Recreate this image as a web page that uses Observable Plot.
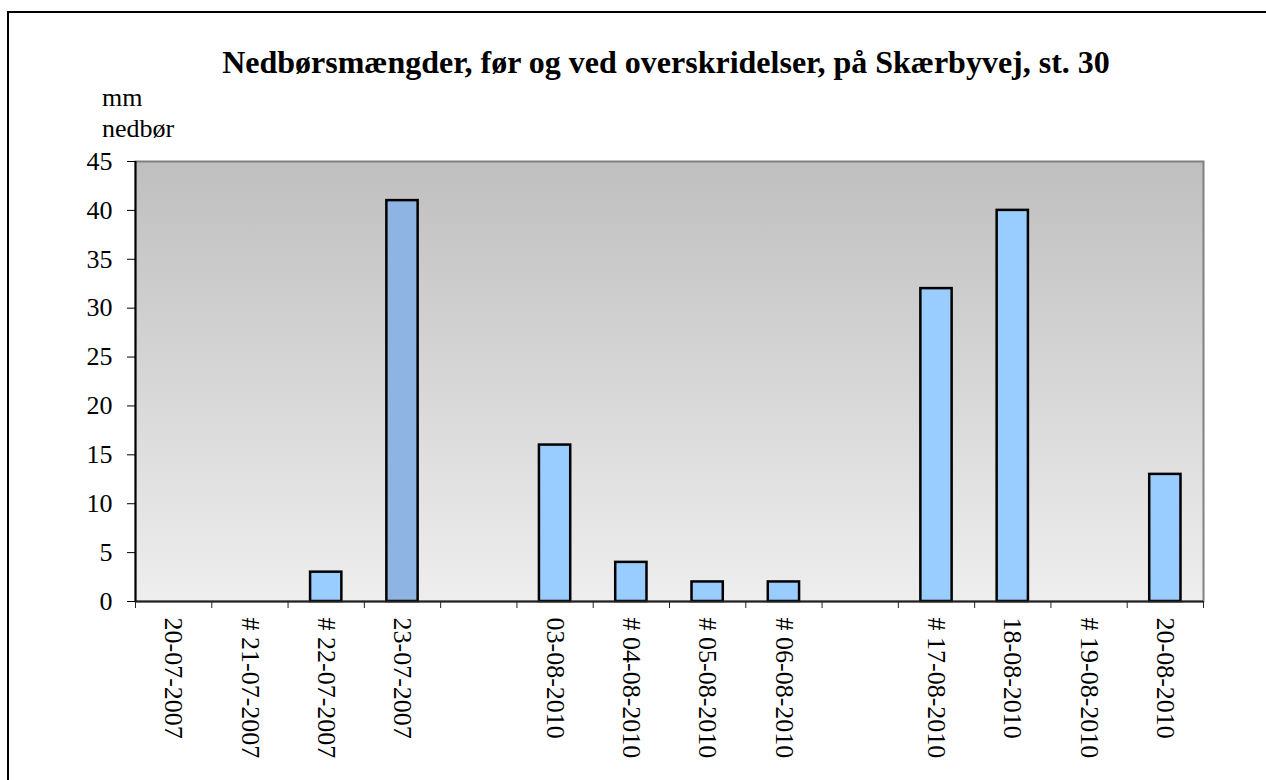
<!DOCTYPE html>
<html>
<head>
<meta charset="utf-8">
<script src="https://cdn.jsdelivr.net/npm/d3@7"></script>
<script src="https://cdn.jsdelivr.net/npm/@observablehq/plot@0.6"></script>
<style>
html, body { margin: 0; padding: 0; background: #fff; overflow: hidden; width: 1266px; height: 780px; }
#border { position: absolute; left: 7px; top: 11px; width: 1320px; height: 840px; border: 2px solid #000; box-sizing: border-box; }
#title { position: absolute; left: 0; width: 1332px; top: 46px; text-align: center; font: bold 32px "Liberation Serif", "Times New Roman", serif; line-height: 32px; white-space: nowrap; }
#ylabel { position: absolute; left: 102px; top: 82px; font: 26px "Liberation Serif", "Times New Roman", serif; line-height: 31px; }
#chart { position: absolute; left: 0; top: 0; }
</style>
</head>
<body>
<div id="border"></div>
<div id="title">Nedbørsmængder, før og ved overskridelser, på Skærbyvej, st. 30</div>
<div id="ylabel">mm<br>nedbør</div>
<div id="chart"></div>
<script>
const categories = ["20-07-2007", "# 21-07-2007", "# 22-07-2007", "23-07-2007", "", "03-08-2010", "# 04-08-2010", "# 05-08-2010", "# 06-08-2010", "", "# 17-08-2010", "18-08-2010", "# 19-08-2010", "20-08-2010"];
const values = [0, 0, 3, 41, null, 16, 4, 2, 2, null, 32, 40, 0, 13];
const yTicks = [0, 5, 10, 15, 20, 25, 30, 35, 40, 45];
const highlighted = "23-07-2007";

const W = 1266, H = 780;
const mL = 135, mR = 63, mT = 161, mB = 179;
const step = (W - mL - mR) / categories.length;
const idx = categories.map((_, i) => i);
const data = categories.map((label, i) => ({i, label, value: values[i]}));

const gradient = () => {
  const defs = d3.create("svg:defs");
  const g = defs.append("linearGradient").attr("id", "bgGrad")
    .attr("x1", 0).attr("y1", 0).attr("x2", 0).attr("y2", 1);
  g.append("stop").attr("offset", "0%").attr("stop-color", "#BFBFBF");
  g.append("stop").attr("offset", "100%").attr("stop-color", "#EEEEEE");
  return defs.node();
};

const chart = Plot.plot({
  width: W, height: H,
  marginLeft: mL, marginRight: mR, marginTop: mT, marginBottom: mB,
  style: {fontFamily: "'Liberation Serif', 'Times New Roman', serif", fontSize: "26px", background: "transparent", color: "#000"},
  x: {type: "band", domain: idx, paddingInner: 0.59, paddingOuter: 0.295, round: false, axis: null},
  y: {domain: [0, 45], axis: null},
  color: {type: "identity"},
  marks: [
    gradient,
    Plot.frame({fill: "url(#bgGrad)", stroke: "#808080", strokeWidth: 2}),
    Plot.barY(data.filter(d => d.value > 0), {
      x: "i", y: "value",
      fill: d => d.label === highlighted ? "#8DB4E2" : "#99CCFF",
      stroke: "#000", strokeWidth: 2.5
    }),
    Plot.ruleY([0], {stroke: "#222", strokeWidth: 2}),
    Plot.ruleX([0], {x: d => d, y1: 0, y2: 45, dx: -step / 2, stroke: "#000", strokeWidth: 2}),
    Plot.axisY({ticks: yTicks, tickSize: 8, tickPadding: 15, fontSize: 26, label: null}),
    Plot.axisX({ticks: idx, tickSize: 7, tickFormat: () => "", dx: -step / 2, label: null, stroke: "#222"}),
    Plot.axisX({ticks: [idx[idx.length - 1]], tickSize: 7, tickFormat: () => "", dx: step / 2, label: null, stroke: "#222"}),
    Plot.axisX({ticks: idx, tickSize: 0, tickPadding: 16, tickRotate: 90, fontSize: 26, tickFormat: i => categories[i], label: null})
  ]
});
document.getElementById("chart").appendChild(chart);
</script>
</body>
</html>
